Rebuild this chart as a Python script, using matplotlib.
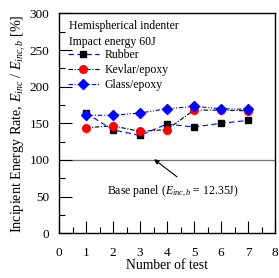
import matplotlib.pyplot as plt
from matplotlib.ticker import MultipleLocator

plt.rcParams['font.family'] = 'Liberation Serif'
plt.rcParams['mathtext.fontset'] = 'custom'
plt.rcParams['mathtext.it'] = 'Liberation Serif:italic'
plt.rcParams['mathtext.rm'] = 'Liberation Serif'

# Datos
tests = [1, 2, 3, 4, 5, 6, 7]
rubber = [164, 141, 133.5, 149, 145, 150, 154]
kevlar = [144, 146.5, 139, 141.5, 168, 168, 167]
glass = [161, 161, 164, 170, 173, 170, 169]
base_value = 100

fig = plt.figure(figsize=(2.79, 2.78), dpi=100)
ax = fig.add_axes([0.2115, 0.1608, 0.7742, 0.7912])

ax.axhline(base_value, color='0.45', lw=0.9, zorder=1)

ax.plot(tests, rubber, color='blue', ls=(0, (5, 3)), lw=0.8,
        marker='s', ms=5, mfc='black', mec='black', label='Rubber', zorder=3)
ax.plot(tests, kevlar, color='black', ls=(0, (4, 1.5, 1, 1.5)), lw=0.8,
        marker='o', ms=5.5, mfc='red', mec='red', label='Kevlar/epoxy', zorder=3)
ax.plot(tests, glass, color='blue', ls=(0, (4, 1.5, 1, 1.5, 1, 1.5)), lw=0.8,
        marker='D', ms=5.5, mfc='blue', mec='blue', label='Glass/epoxy', zorder=4)

ax.set_xlim(0, 8)
ax.set_ylim(0, 300)
ax.xaxis.set_major_locator(MultipleLocator(1))
ax.xaxis.set_minor_locator(MultipleLocator(0.5))
ax.yaxis.set_major_locator(MultipleLocator(50))
ax.yaxis.set_minor_locator(MultipleLocator(25))
ax.tick_params(which='both', direction='in', top=False, right=False, labelsize=9.5, width=0.8)
ax.tick_params(axis='x', which='major', length=9, pad=10)
ax.tick_params(axis='y', which='major', length=9, pad=7)
ax.tick_params(which='minor', length=4)
for s in ax.spines.values():
    s.set_linewidth(1.0)

ax.set_xlabel('Number of test', fontsize=9.8, labelpad=0)
ax.set_ylabel(r'Incipient Energy Rate, $E_{inc}$ / $E_{inc,b}$ [%]', fontsize=10.2, labelpad=1)

ax.text(0.045, 0.943, 'Hemispherical indenter', transform=ax.transAxes, fontsize=8.5, va='center')
ax.text(0.045, 0.871, 'Impact energy 60J', transform=ax.transAxes, fontsize=8.5, va='center')
ax.legend(loc='upper left', bbox_to_anchor=(0.02, 0.861), frameon=False, fontsize=8.5,
          handlelength=2.6, handletextpad=0.5, labelspacing=0.29, borderaxespad=0)

ax.annotate('', xy=(3.52, 101), xytext=(4.37, 77),
            arrowprops=dict(arrowstyle='-|>', color='black', lw=0.8, mutation_scale=7,
                            shrinkA=0, shrinkB=0))
ax.text(4.2, 57.6, r'Base panel ($E_{inc,b}$ = 12.35J)', ha='center', va='center', fontsize=8.5)

fig.savefig('out.png', dpi=100)
